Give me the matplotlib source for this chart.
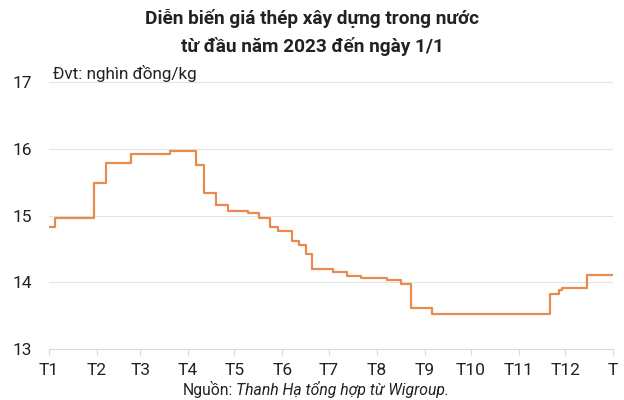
import matplotlib.pyplot as plt

# day of year when the price changes, and the price from that day (nghìn đồng/kg)
change_days = [0, 4, 29, 37, 53, 78, 95, 100, 108, 116, 129, 136, 143, 148, 157,
               162, 166, 170, 184, 193, 202, 219, 228, 234, 248, 324, 330, 332, 348, 365]
prices = [14.83, 14.97, 15.48, 15.79, 15.92, 15.97, 15.75, 15.34, 15.15, 15.07,
          15.03, 14.96, 14.83, 14.77, 14.62, 14.56, 14.42, 14.20, 14.15, 14.10,
          14.07, 14.04, 13.97, 13.61, 13.53, 13.82, 13.88, 13.91, 14.11, 14.11]

month_starts = [0, 31, 59, 90, 120, 151, 181, 212, 243, 273, 304, 334, 365]
month_labels = ['T1', 'T2', 'T3', 'T4', 'T5', 'T6', 'T7', 'T8', 'T9', 'T10', 'T11', 'T12', 'T']
y_ticks = [13, 14, 15, 16, 17]

plt.rcParams['font.family'] = ['Roboto', 'DejaVu Sans']

fig = plt.figure(figsize=(6.24, 4.0), dpi=100)
ax = fig.add_axes([0.0785, 0.1275, 0.904, 0.6675])

ax.plot(change_days, prices, drawstyle='steps-post', color='#E98B4E', linewidth=1.6)

ax.set_xlim(0, 365)
ax.set_ylim(13, 17)
ax.set_yticks(y_ticks)
ax.set_xticks(month_starts)
ax.set_xticklabels(month_labels)
ax.tick_params(axis='y', length=0, labelsize=12.5, colors='#222222', pad=12)
ax.tick_params(axis='x', length=4, color='#d9d9d9', labelsize=12.5, colors='#222222', pad=6)
ax.grid(axis='y', color='#e3e3e3', linewidth=0.8)
ax.set_axisbelow(True)
for side in ['top', 'right', 'left']:
    ax.spines[side].set_visible(False)
ax.spines['bottom'].set_color('#d9d9d9')

fig.text(0.5, 0.953, 'Diễn biến giá thép xây dựng trong nước', ha='center', va='center',
         fontsize=13.7, fontweight='bold', color='#222222')
fig.text(0.5, 0.885, 'từ đầu năm 2023 đến ngày 1/1', ha='center', va='center',
         fontsize=13.7, fontweight='bold', color='#222222')
fig.text(53 / 624, 1 - 74 / 400, 'Đvt: nghìn đồng/kg', ha='left', va='center',
         fontsize=12.3, color='#222222')

fig.text(233 / 624, 1 - 389 / 400, 'Nguồn:', ha='right', va='center', fontsize=11.3, color='#222222')
fig.text(236 / 624, 1 - 389 / 400, 'Thanh Hạ tổng hợp từ Wigroup.', ha='left', va='center',
         fontsize=11.3, style='italic', color='#222222')

fig.savefig('out.png', dpi=100)
